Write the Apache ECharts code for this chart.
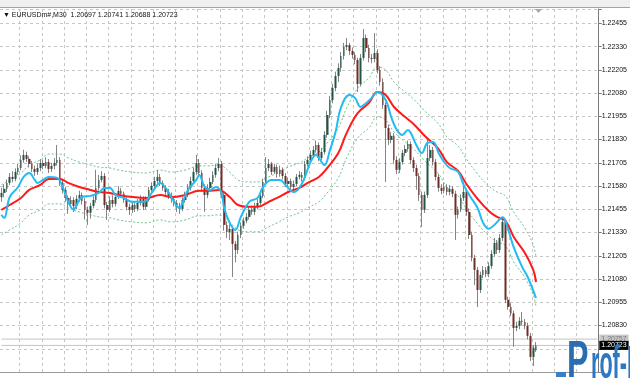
<!DOCTYPE html>
<html>
<head>
<meta charset="utf-8">
<script src="https://cdn.jsdelivr.net/npm/echarts@6/dist/echarts.min.js"></script>
<style>
html,body{margin:0;padding:0;background:#fff;}
#c{width:630px;height:380px;}
</style>
</head>
<body>
<div id="c"></div>
<script>
// ---------- DATA ----------
const symbolName = 'EURUSDm#,M30';
const slotCount = 215; // candle slots incl. right shift
const yTickLabels = ['1.22455','1.22330','1.22205','1.22080','1.21955','1.21830','1.21705','1.21580','1.21455','1.21330','1.21205','1.21080','1.20955','1.20830'];

const opens = [
1.21520,1.21543,1.21565,1.21597,1.21629,1.21618,1.21656,1.21677,1.21720,1.21747,
1.21726,1.21699,1.21672,1.21656,1.21677,1.21704,1.21688,1.21709,1.21672,1.21688,
1.21704,1.21720,1.21597,1.21559,1.21516,1.21484,1.21505,1.21473,1.21511,1.21532,
1.21500,1.21452,1.21436,1.21473,1.21505,1.21570,1.21613,1.21634,1.21478,1.21452,
1.21505,1.21484,1.21521,1.21554,1.21538,1.21505,1.21468,1.21452,1.21478,1.21457,
1.21489,1.21511,1.21468,1.21505,1.21559,1.21581,1.21607,1.21629,1.21597,1.21570,
1.21548,1.21527,1.21511,1.21489,1.21468,1.21457,1.21505,1.21532,1.21570,1.21607,
1.21656,1.21704,1.21650,1.21570,1.21532,1.21570,1.21602,1.21640,1.21677,1.21699,
1.21532,1.21371,1.21333,1.21350,1.21269,1.21236,1.21317,1.21366,1.21393,1.21414,
1.21452,1.21441,1.21468,1.21489,1.21527,1.21602,1.21677,1.21699,1.21656,1.21683,
1.21645,1.21667,1.21634,1.21591,1.21607,1.21575,1.21591,1.21629,1.21640,1.21624,
1.21699,1.21720,1.21747,1.21774,1.21801,1.21731,1.21763,1.21855,1.21962,1.22043,
1.22107,1.22172,1.22215,1.22279,1.22328,1.22338,1.22306,1.22285,1.22258,1.22129,
1.22269,1.22376,1.22322,1.22269,1.22263,1.22295,1.22204,1.22140,1.22016,1.21892,
1.21828,1.21850,1.21720,1.21667,1.21709,1.21758,1.21779,1.21806,1.21720,1.21677,
1.21634,1.21532,1.21452,1.21532,1.21731,1.21774,1.21709,1.21629,1.21570,1.21554,
1.21575,1.21548,1.21565,1.21538,1.21425,1.21452,1.21516,1.21548,1.21441,1.21317,
1.21193,1.21129,1.21021,1.21102,1.21129,1.21107,1.21150,1.21215,1.21274,1.21236,
1.21301,1.21387,1.20968,1.20930,1.20895,1.20817,1.20828,1.20855,1.20849,1.20828,
1.20774,1.20661,1.20697];

const highs = [
1.21570,1.21590,1.21615,1.21650,1.21660,1.21675,1.21700,1.21745,1.21775,1.21765,
1.21740,1.21715,1.21690,1.21700,1.21725,1.21720,1.21735,1.21725,1.21705,1.21730,
1.21801,1.21735,1.21615,1.21575,1.21530,1.21525,1.21520,1.21530,1.21555,1.21545,
1.21515,1.21470,1.21490,1.21525,1.21667,1.21640,1.21660,1.21650,1.21495,1.21525,
1.21530,1.21540,1.21580,1.21570,1.21550,1.21520,1.21485,1.21495,1.21495,1.21510,
1.21530,1.21525,1.21525,1.21575,1.21600,1.21630,1.21667,1.21645,1.21610,1.21585,
1.21565,1.21545,1.21525,1.21505,1.21490,1.21520,1.21550,1.21590,1.21630,1.21680,
1.21747,1.21725,1.21665,1.21590,1.21590,1.21625,1.21660,1.21700,1.21731,1.21715,
1.21545,1.21390,1.21375,1.21365,1.21285,1.21335,1.21385,1.21410,1.21435,1.21470,
1.21475,1.21490,1.21510,1.21550,1.21620,1.21736,1.21725,1.21710,1.21700,1.21695,
1.21690,1.21680,1.21650,1.21625,1.21620,1.21610,1.21645,1.21660,1.21655,1.21715,
1.21740,1.21770,1.21795,1.21825,1.21815,1.21785,1.21875,1.21985,1.22065,1.22130,
1.22195,1.22240,1.22300,1.22350,1.22376,1.22350,1.22325,1.22300,1.22270,1.22290,
1.22425,1.22395,1.22340,1.22290,1.22403,1.22315,1.22225,1.22160,1.22030,1.21910,
1.21870,1.21865,1.21740,1.21730,1.21775,1.21800,1.21825,1.21820,1.21735,1.21695,
1.21650,1.21550,1.21550,1.21828,1.21800,1.21790,1.21725,1.21645,1.21590,1.21595,
1.21590,1.21585,1.21580,1.21555,1.21470,1.21535,1.21602,1.21565,1.21460,1.21335,
1.21210,1.21145,1.21120,1.21150,1.21145,1.21170,1.21235,1.21301,1.21290,1.21322,
1.21414,1.21400,1.20985,1.20950,1.20910,1.20850,1.20875,1.20903,1.20865,1.20845,
1.20790,1.20725,1.20741];

const lows = [
1.21495,1.21520,1.21548,1.21585,1.21600,1.21605,1.21640,1.21665,1.21705,1.21710,
1.21680,1.21655,1.21635,1.21640,1.21660,1.21670,1.21675,1.21650,1.21655,1.21670,
1.21690,1.21580,1.21540,1.21495,1.21430,1.21465,1.21440,1.21455,1.21495,1.21480,
1.21400,1.21371,1.21405,1.21460,1.21490,1.21555,1.21600,1.21460,1.21398,1.21440,
1.21465,1.21470,1.21510,1.21520,1.21490,1.21450,1.21425,1.21435,1.21440,1.21445,
1.21475,1.21450,1.21455,1.21495,1.21545,1.21570,1.21595,1.21580,1.21555,1.21530,
1.21510,1.21490,1.21470,1.21440,1.21430,1.21445,1.21490,1.21520,1.21555,1.21595,
1.21640,1.21630,1.21550,1.21441,1.21515,1.21555,1.21590,1.21625,1.21660,1.21515,
1.21340,1.21300,1.21290,1.21091,1.21170,1.21215,1.21300,1.21350,1.21380,1.21400,
1.21425,1.21425,1.21455,1.21475,1.21515,1.21590,1.21660,1.21640,1.21645,1.21625,
1.21630,1.21615,1.21575,1.21575,1.21555,1.21560,1.21580,1.21615,1.21605,1.21610,
1.21685,1.21705,1.21735,1.21760,1.21715,1.21720,1.21750,1.21840,1.21945,1.22025,
1.22090,1.22140,1.22195,1.22260,1.22310,1.22285,1.22265,1.22235,1.22086,1.22115,
1.22255,1.22300,1.22245,1.22240,1.22245,1.22185,1.22120,1.21995,1.21602,1.21800,
1.21810,1.21700,1.21645,1.21650,1.21695,1.21740,1.21765,1.21700,1.21655,1.21560,
1.21500,1.21360,1.21435,1.21515,1.21715,1.21690,1.21610,1.21550,1.21535,1.21540,
1.21530,1.21530,1.21520,1.21290,1.21405,1.21440,1.21500,1.21420,1.21295,1.21175,
1.21048,1.20930,1.21005,1.21085,1.21090,1.21090,1.21135,1.21200,1.21215,1.21220,
1.21285,1.20950,1.20915,1.20880,1.20715,1.20800,1.20810,1.20830,1.20810,1.20755,
1.20640,1.20613,1.20688];

const closes = [
1.21543,1.21565,1.21597,1.21629,1.21618,1.21656,1.21677,1.21720,1.21747,1.21726,
1.21699,1.21672,1.21656,1.21677,1.21704,1.21688,1.21709,1.21672,1.21688,1.21704,
1.21720,1.21597,1.21559,1.21516,1.21484,1.21505,1.21473,1.21511,1.21532,1.21500,
1.21452,1.21436,1.21473,1.21505,1.21570,1.21613,1.21634,1.21478,1.21452,1.21505,
1.21484,1.21521,1.21554,1.21538,1.21505,1.21468,1.21452,1.21478,1.21457,1.21489,
1.21511,1.21468,1.21505,1.21559,1.21581,1.21607,1.21629,1.21597,1.21570,1.21548,
1.21527,1.21511,1.21489,1.21468,1.21457,1.21505,1.21532,1.21570,1.21607,1.21656,
1.21704,1.21650,1.21570,1.21532,1.21570,1.21602,1.21640,1.21677,1.21699,1.21532,
1.21371,1.21333,1.21350,1.21269,1.21236,1.21317,1.21366,1.21393,1.21414,1.21452,
1.21441,1.21468,1.21489,1.21527,1.21602,1.21677,1.21699,1.21656,1.21683,1.21645,
1.21667,1.21634,1.21591,1.21607,1.21575,1.21591,1.21629,1.21640,1.21624,1.21699,
1.21720,1.21747,1.21774,1.21801,1.21731,1.21763,1.21855,1.21962,1.22043,1.22107,
1.22172,1.22215,1.22279,1.22328,1.22338,1.22306,1.22285,1.22258,1.22129,1.22269,
1.22376,1.22322,1.22269,1.22263,1.22295,1.22204,1.22140,1.22016,1.21892,1.21828,
1.21850,1.21720,1.21667,1.21709,1.21758,1.21779,1.21806,1.21720,1.21677,1.21634,
1.21532,1.21452,1.21532,1.21731,1.21774,1.21709,1.21629,1.21570,1.21554,1.21575,
1.21548,1.21565,1.21538,1.21425,1.21452,1.21516,1.21548,1.21441,1.21317,1.21193,
1.21129,1.21021,1.21102,1.21129,1.21107,1.21150,1.21215,1.21274,1.21236,1.21301,
1.21387,1.20968,1.20930,1.20895,1.20817,1.20828,1.20855,1.20849,1.20828,1.20774,
1.20661,1.20710,1.20723];

// slow MA (red) read at [bar index, price]
const redMA = [[0,1.21452],[3,1.21478],[7,1.21516],[10,1.21559],[14,1.21586],[17,1.21618],[21,1.21618],[24,1.21597],[28,1.21575],[32,1.21559],[35,1.21548],[39,1.21543],[42,1.21532],[47,1.21521],[52,1.21516],[57,1.21532],[61,1.21521],[66,1.21532],[71,1.21554],[74,1.21554],[78,1.21559],[82,1.21521],[85,1.21478],[89,1.21468],[92,1.21468],[96,1.21495],[99,1.21516],[103,1.21548],[107,1.21570],[110,1.21597],[114,1.21629],[117,1.21677],[121,1.21758],[124,1.21866],[128,1.21973],[132,1.22027],[135,1.22086],[138,1.22070],[141,1.22005],[145,1.21951],[148,1.21914],[152,1.21850],[157,1.21779],[160,1.21709],[164,1.21661],[167,1.21591],[171,1.21511],[175,1.21446],[178,1.21414],[181,1.21393],[184,1.21306],[188,1.21220],[191,1.21129],[192,1.21064]];

// fast MA (cyan)
const cyanMA = [[0,1.21425],[1,1.21409],[3,1.21521],[6,1.21575],[8,1.21629],[10,1.21650],[12,1.21613],[13,1.21597],[15,1.21613],[17,1.21629],[20,1.21624],[22,1.21575],[24,1.21495],[26,1.21452],[27,1.21478],[29,1.21521],[32,1.21527],[35,1.21543],[37,1.21570],[39,1.21570],[41,1.21532],[44,1.21516],[47,1.21495],[51,1.21495],[54,1.21543],[57,1.21597],[59,1.21570],[61,1.21521],[64,1.21462],[65,1.21489],[67,1.21559],[70,1.21613],[71,1.21640],[73,1.21575],[75,1.21559],[77,1.21575],[79,1.21543],[80,1.21462],[82,1.21382],[84,1.21344],[86,1.21414],[89,1.21495],[92,1.21516],[94,1.21575],[97,1.21613],[100,1.21613],[102,1.21586],[105,1.21548],[107,1.21570],[109,1.21629],[111,1.21709],[113,1.21747],[114,1.21731],[116,1.21693],[118,1.21774],[120,1.21871],[122,1.22005],[125,1.22070],[127,1.22054],[129,1.22005],[131,1.22027],[133,1.22054],[135,1.22086],[138,1.22043],[140,1.21951],[142,1.21882],[144,1.21855],[146,1.21882],[147,1.21866],[149,1.21801],[151,1.21758],[153,1.21812],[155,1.21817],[157,1.21758],[159,1.21709],[161,1.21677],[164,1.21656],[166,1.21586],[168,1.21532],[171,1.21462],[173,1.21382],[175,1.21350],[177,1.21371],[180,1.21412],[182,1.21344],[184,1.21250],[187,1.21145],[189,1.21091],[192,1.20978]];

// envelope bands (green dotted)
const upperBand = [[0,1.21586],[3,1.21612],[7,1.21650],[10,1.21693],[14,1.21720],[17,1.21752],[21,1.21752],[24,1.21731],[28,1.21709],[32,1.21693],[35,1.21682],[39,1.21677],[42,1.21666],[47,1.21655],[52,1.21650],[57,1.21666],[61,1.21655],[66,1.21666],[71,1.21688],[74,1.21688],[78,1.21693],[82,1.21655],[85,1.21612],[89,1.21602],[92,1.21602],[96,1.21629],[99,1.21650],[103,1.21682],[107,1.21704],[110,1.21731],[114,1.21763],[117,1.21811],[121,1.21892],[124,1.22000],[128,1.22107],[132,1.22161],[135,1.22220],[138,1.22204],[141,1.22139],[145,1.22085],[148,1.22048],[152,1.21984],[157,1.21913],[160,1.21843],[164,1.21795],[167,1.21725],[171,1.21645],[175,1.21580],[178,1.21548],[181,1.21527],[184,1.21440],[188,1.21354],[191,1.21263],[192,1.21198]];
const lowerBand = [[0,1.21318],[3,1.21344],[7,1.21382],[10,1.21425],[14,1.21452],[17,1.21484],[21,1.21484],[24,1.21463],[28,1.21441],[32,1.21425],[35,1.21414],[39,1.21409],[42,1.21398],[47,1.21387],[52,1.21382],[57,1.21398],[61,1.21387],[66,1.21398],[71,1.21420],[74,1.21420],[78,1.21425],[82,1.21387],[85,1.21344],[89,1.21334],[92,1.21334],[96,1.21361],[99,1.21382],[103,1.21414],[107,1.21436],[110,1.21463],[114,1.21495],[117,1.21543],[121,1.21624],[124,1.21732],[128,1.21839],[132,1.21893],[135,1.21952],[138,1.21936],[141,1.21871],[145,1.21817],[148,1.21780],[152,1.21716],[157,1.21645],[160,1.21575],[164,1.21527],[167,1.21457],[171,1.21377],[175,1.21312],[178,1.21280],[181,1.21259],[184,1.21172],[188,1.21086],[191,1.20995],[192,1.20930]];

const priceLines = [1.20757, 1.20723]; // ask-ish line, bid line

// ---------- BUILD ----------
const slots = Array.from({length: slotCount}, (_, i) => String(i));
const wickData = opens.map((o, i) => [o, closes[i], lows[i], highs[i]]);
const bodyData = opens.map((o, i) => [o, closes[i], Math.min(o, closes[i]), Math.max(o, closes[i])]);
const last = opens.length - 1;
const header = '\u25BC ' + symbolName + '  ' + [opens[last], highs[last], lows[last], closes[last]].map(v => v.toFixed(5)).join(' ');

const bull = '#1f5648', bear = '#6e2c29', wick = '#858585';
const gridCol = '#c6c6c6';
const bandCol = '#6fc48e';

function priceLineSeries(p, bg, fg, z) {
  return {
    type: 'line', data: [[0, p], [slotCount - 1, p]], symbol: 'none', silent: true, z: z,
    lineStyle: {color: '#c4c4c4', width: 1},
    endLabel: {show: true, distance: 2, formatter: () => p.toFixed(5), fontSize: 7, fontFamily: 'Liberation Sans',
      backgroundColor: bg, color: fg, padding: [1, 2, 1, 2]}
  };
}

const chart = echarts.init(document.getElementById('c'), null, {renderer: 'canvas'});
chart.setOption({
  animation: false,
  backgroundColor: '#ffffff',
  grid: {left: 0, right: 28, top: 9, bottom: 8, show: false},
  xAxis: {
    type: 'category', data: slots, boundaryGap: true,
    axisLine: {show: true, lineStyle: {color: '#9a9a9a', width: 1}},
    axisTick: {show: false}, axisLabel: {show: false},
    splitLine: {show: true, interval: (i) => i % 8 === 7, lineStyle: {color: gridCol, type: [3, 3], width: 1}}
  },
  yAxis: {
    type: 'value', position: 'right', min: 1.20580, max: 1.22532, interval: 0.00125,
    axisLine: {show: true, lineStyle: {color: '#7a7a7a', width: 1}},
    axisTick: {show: true, length: 3, lineStyle: {color: '#7a7a7a'}},
    axisLabel: {
      fontSize: 7, fontFamily: 'Liberation Sans', color: '#111', margin: 3,
      formatter: (v) => { const s = v.toFixed(5); return yTickLabels.includes(s) ? s : ''; }
    },
    splitLine: {show: true, lineStyle: {color: gridCol, type: [3, 3], width: 1}}
  },
  series: [
    {type: 'line', data: upperBand, smooth: 0.4, symbol: 'none', silent: true, z: 1,
     lineStyle: {color: bandCol, width: 1, type: [2, 2]}},
    {type: 'line', data: lowerBand, smooth: 0.4, symbol: 'none', silent: true, z: 1,
     lineStyle: {color: bandCol, width: 1, type: [2, 2]}},
    priceLineSeries(priceLines[0], '#c8c8c8', '#7a7a7a', 1),
    priceLineSeries(priceLines[1], '#000000', '#ffffff', 1),
    {type: 'candlestick', data: wickData, barWidth: 1, z: 2,
     itemStyle: {color: wick, color0: wick, borderColor: wick, borderColor0: wick, borderWidth: 1}},
    {type: 'candlestick', data: bodyData, barWidth: 2.2, z: 3,
     itemStyle: {color: bull, color0: bear, borderColor: bull, borderColor0: bear, borderWidth: 0}},
    {type: 'line', data: redMA, smooth: 0.4, symbol: 'none', silent: true, z: 4,
     lineStyle: {color: '#ff1a1a', width: 2}},
    {type: 'line', data: cyanMA, smooth: 0.4, symbol: 'none', silent: true, z: 5,
     lineStyle: {color: '#22bcf2', width: 2}}
  ],
  graphic: [
    {type: 'rect', shape: {x: 0, y: 0, width: 630, height: 7}, style: {fill: '#efefef'}, z: 10},
    {type: 'line', shape: {x1: 0, y1: 7.5, x2: 630, y2: 7.5}, style: {stroke: '#a3a3a3', lineWidth: 1}, z: 10},
    {type: 'polygon', shape: {points: [[535, 9], [542, 9], [538.5, 13]]}, style: {fill: '#a8a8a8'}, z: 10},
    {type: 'text', x: 3, y: 15, z: 10,
     style: {text: header, font: '7px "Liberation Sans"', fill: '#111', textVerticalAlign: 'middle', verticalAlign: 'middle'}},
    {type: 'rect', shape: {x: 556, y: 372, width: 10, height: 5}, style: {fill: '#3b7fc4'}, z: 10},
    {type: 'text', x: 567, y: 363, scaleX: 0.62, z: 10,
     style: {text: 'P', font: 'bold 52px "Liberation Sans"', fill: '#2a6db0', textVerticalAlign: 'middle', verticalAlign: 'middle'}},
    {type: 'text', x: 591, y: 365, scaleX: 0.47, z: 10,
     style: {text: 'rof-FX', font: 'bold 46px "Liberation Sans"', fill: '#2e78c2', textVerticalAlign: 'middle', verticalAlign: 'middle'}}
  ]
});
</script>
</body>
</html>
